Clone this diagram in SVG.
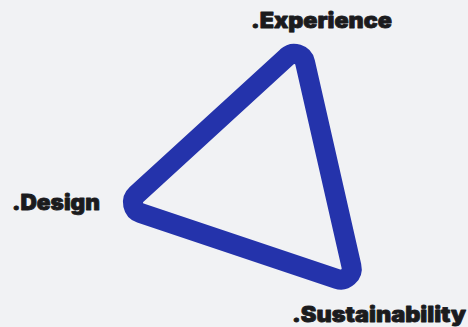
<svg xmlns="http://www.w3.org/2000/svg" width="468" height="327" viewBox="0 0 468 327">
<style>
.lbl{font-family:Inter,"Open Sans","Liberation Sans",sans-serif;font-weight:900;font-size:21px;fill:#1b1b1d;stroke:#1b1b1d;stroke-width:0.8;stroke-linejoin:round}
</style>
<rect width="468" height="327" fill="#f1f2f4"/>
<g id="connectors">
<path d="M286.95,56.76 L136.5,194.5 A11 11 0 0 0 140.4,213.0 L337.1,278.9 A11 11 0 0 0 351.4,266.0 L305.08,62.43 A11 11 0 0 0 286.95,56.76 Z" fill="none" stroke="#2433ab" stroke-width="20" stroke-linejoin="round"/>
</g>
<g id="experience"><text class="lbl" x="251" y="28" textLength="141" lengthAdjust="spacingAndGlyphs">.Experience</text></g>
<g id="design"><text class="lbl" x="12" y="210" textLength="88" lengthAdjust="spacingAndGlyphs">.Design</text></g>
<g id="sustainability"><text class="lbl" x="292" y="322" textLength="174" lengthAdjust="spacingAndGlyphs">.Sustainability</text></g>
</svg>
